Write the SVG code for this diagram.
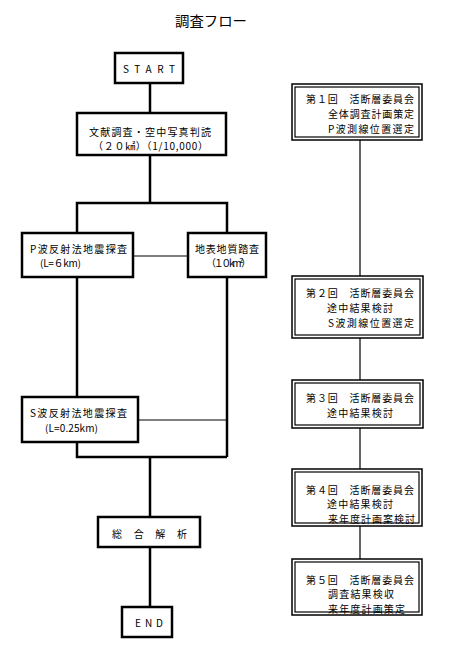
<svg xmlns="http://www.w3.org/2000/svg" width="458" height="652" viewBox="0 0 458 652">
<style>
.bg{fill:#fff}
.box{fill:#fff;stroke:#000;stroke-width:2.5}
.dbo{fill:#fff;stroke:#000;stroke-width:1.5}
.dbi{fill:none;stroke:#000;stroke-width:1.2}
.thick{stroke:#000;stroke-width:2.5;fill:none}
.thin{stroke:#000;stroke-width:1.2;fill:none}
text{font-family:"Noto Sans CJK JP","Noto Sans",sans-serif;font-size:10px;fill:#000;dominant-baseline:central}
.title{font-size:14px}
</style>
<rect class="bg" x="0" y="0" width="458" height="652"/>
<text class="title" x="175" y="20" textLength="72" lengthAdjust="spacingAndGlyphs">調査フロー</text>
<g id="connectors">
<line class="thick" x1="150" y1="83" x2="150" y2="113"/>
<line class="thick" x1="150" y1="155" x2="150" y2="203"/>
<polyline class="thick" points="77,233 77,203 227,203 227,233"/>
<line class="thin" x1="133" y1="256" x2="188" y2="256"/>
<line class="thick" x1="77" y1="277" x2="77" y2="397"/>
<line class="thick" x1="227" y1="277" x2="227" y2="457"/>
<line class="thin" x1="138" y1="420" x2="227" y2="420"/>
<polyline class="thick" points="77,442 77,457 227,457"/>
<line class="thick" x1="150" y1="457" x2="150" y2="517"/>
<line class="thick" x1="150" y1="547" x2="150" y2="607"/>
<line class="thin" x1="360" y1="140" x2="360" y2="276"/>
<line class="thin" x1="360" y1="338" x2="360" y2="380"/>
<line class="thin" x1="360" y1="428" x2="360" y2="469"/>
<line class="thin" x1="360" y1="526" x2="360" y2="559"/>
</g>
<g id="start">
<rect class="box" x="115" y="53" width="68" height="30"/>
<text x="123" y="68" textLength="52">START</text>
</g>
<g id="bunken">
<rect class="box" x="77" y="113" width="149" height="42"/>
<text x="89" y="131" textLength="122">文献調査・空中写真判読</text>
<text x="93" y="145" textLength="115">（２０㎢）（1/10,000）</text>
</g>
<g id="pwave">
<rect class="box" x="22" y="233" width="111" height="44"/>
<text x="30" y="248" textLength="97">P波反射法地震探査</text>
<text x="40" y="262" textLength="41">(L=６km)</text>
</g>
<g id="chishitsu">
<rect class="box" x="188" y="233" width="78" height="44"/>
<text x="195" y="248" textLength="64">地表地質踏査</text>
<text x="206" y="262" textLength="45">（１０km²）</text>
</g>
<g id="swave">
<rect class="box" x="22" y="397" width="116" height="45"/>
<text x="30" y="412" textLength="97">S波反射法地震探査</text>
<text x="45" y="427" textLength="53">(L=0.25km)</text>
</g>
<g id="sogo">
<rect class="box" x="98" y="517" width="102" height="30"/>
<text x="112" y="533" textLength="75">総 合 解 析</text>
</g>
<g id="end">
<rect class="box" x="122" y="607" width="50" height="30"/>
<text x="135" y="622" textLength="28">END</text>
</g>
<g id="iinkai1">
<rect class="dbo" x="292" y="84" width="130" height="56"/>
<rect class="dbi" x="295" y="87" width="124" height="50"/>
<text x="306" y="98" textLength="108">第１回　活断層委員会</text>
<text x="328" y="113" textLength="86">全体調査計画策定</text>
<text x="328" y="128" textLength="86">P波測線位置選定</text>
</g>
<g id="iinkai2">
<rect class="dbo" x="292" y="276" width="131" height="62"/>
<rect class="dbi" x="295" y="279" width="125" height="56"/>
<text x="306" y="292" textLength="108">第２回　活断層委員会</text>
<text x="327" y="307" textLength="66">途中結果検討</text>
<text x="328" y="322" textLength="86">S波測線位置選定</text>
</g>
<g id="iinkai3">
<rect class="dbo" x="292" y="380" width="131" height="48"/>
<rect class="dbi" x="295" y="383" width="125" height="42"/>
<text x="306" y="397" textLength="108">第３回　活断層委員会</text>
<text x="327" y="412" textLength="66">途中結果検討</text>
</g>
<g id="iinkai4">
<rect class="dbo" x="292" y="469" width="130" height="57"/>
<rect class="dbi" x="295" y="472" width="124" height="51"/>
<text x="306" y="489" textLength="108">第４回　活断層委員会</text>
<text x="327" y="503" textLength="66">途中結果検討</text>
<text x="328" y="518" textLength="87">来年度計画案検討</text>
</g>
<g id="iinkai5">
<rect class="dbo" x="292" y="559" width="130" height="56"/>
<rect class="dbi" x="295" y="562" width="124" height="50"/>
<text x="306" y="579" textLength="108">第５回　活断層委員会</text>
<text x="328" y="593" textLength="66">調査結果検収</text>
<text x="328" y="608" textLength="77">来年度計画策定</text>
</g>
</svg>
